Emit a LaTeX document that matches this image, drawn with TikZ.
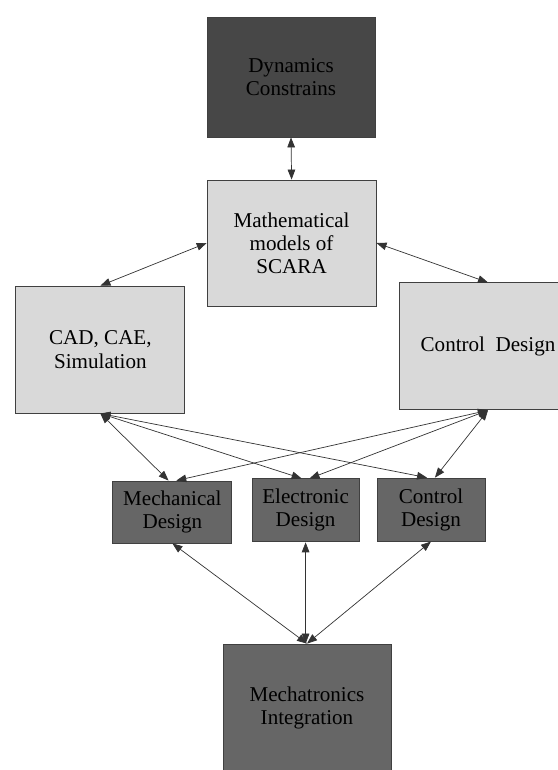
\documentclass[tikz,border=0pt]{standalone}
\usepackage{fontspec}
\setmainfont{Liberation Serif}
\usetikzlibrary{arrows.meta}

\tikzset{
	blk/.style={draw=black!75, line width=0.6pt, align=center, inner sep=1pt},
	darkblk/.style={blk, fill=black!72},
	midblk/.style={blk, fill=black!60},
	lightblk/.style={blk, fill=black!15},
	link/.style={draw=black!80, line width=0.5pt, {Triangle[length=2.5mm,width=1.9mm]}-{Triangle[length=2.5mm,width=1.9mm]}}
}

\begin{document}
\begin{tikzpicture}[font=\fontsize{15}{16.4}\selectfont]
	\useasboundingbox (0,0) rectangle (13.95,-19.25);
	% top
	\node[darkblk, minimum width=4.2cm, minimum height=3cm] (dyn) at (7.275,-1.925) {Dynamics\\Constrains};
	\node[lightblk, minimum width=4.225cm, minimum height=3.15cm] (math) at (7.29,-6.075) {Mathematical\\models of\\SCARA};
	\node[lightblk, minimum width=4.225cm, minimum height=3.175cm] (cad) at (2.51,-8.74) {CAD, CAE,\\Simulation};
	\node[lightblk, minimum width=4.45cm, minimum height=3.175cm] (ctrl) at (12.2,-8.66) {Control\ \ Design};
	% design blocks
	\node[midblk, minimum width=2.975cm, minimum height=1.55cm] (mech) at (4.31,-12.8) {Mechanical\\Design};
	\node[midblk, minimum width=2.675cm, minimum height=1.575cm] (elec) at (7.64,-12.76) {Electronic\\Design};
	\node[midblk, minimum width=2.7cm, minimum height=1.575cm] (ctrls) at (10.775,-12.74) {Control\\Design};
	% integration
	\node[midblk, minimum width=4.2cm, minimum height=3.2cm] (mecha) at (7.675,-17.7) {Mechatronics\\Integration};

	\draw[link] (dyn.south) -- (math.north);
	\draw[link] (math.west) -- (cad.north);
	\draw[link] (math.east) -- (ctrl.north);
	\foreach \b in {mech,elec,ctrls}{
		\draw[link] (cad.south) -- (\b.97);
		\draw[link] (ctrl.south) -- (\b.83);
	}
	\draw[link] (mech.south) -- (mecha.north);
	\draw[link] (elec.south) -- (elec.south |- mecha.north);
	\draw[link] (ctrls.south) -- (mecha.north);
\end{tikzpicture}
\end{document}
